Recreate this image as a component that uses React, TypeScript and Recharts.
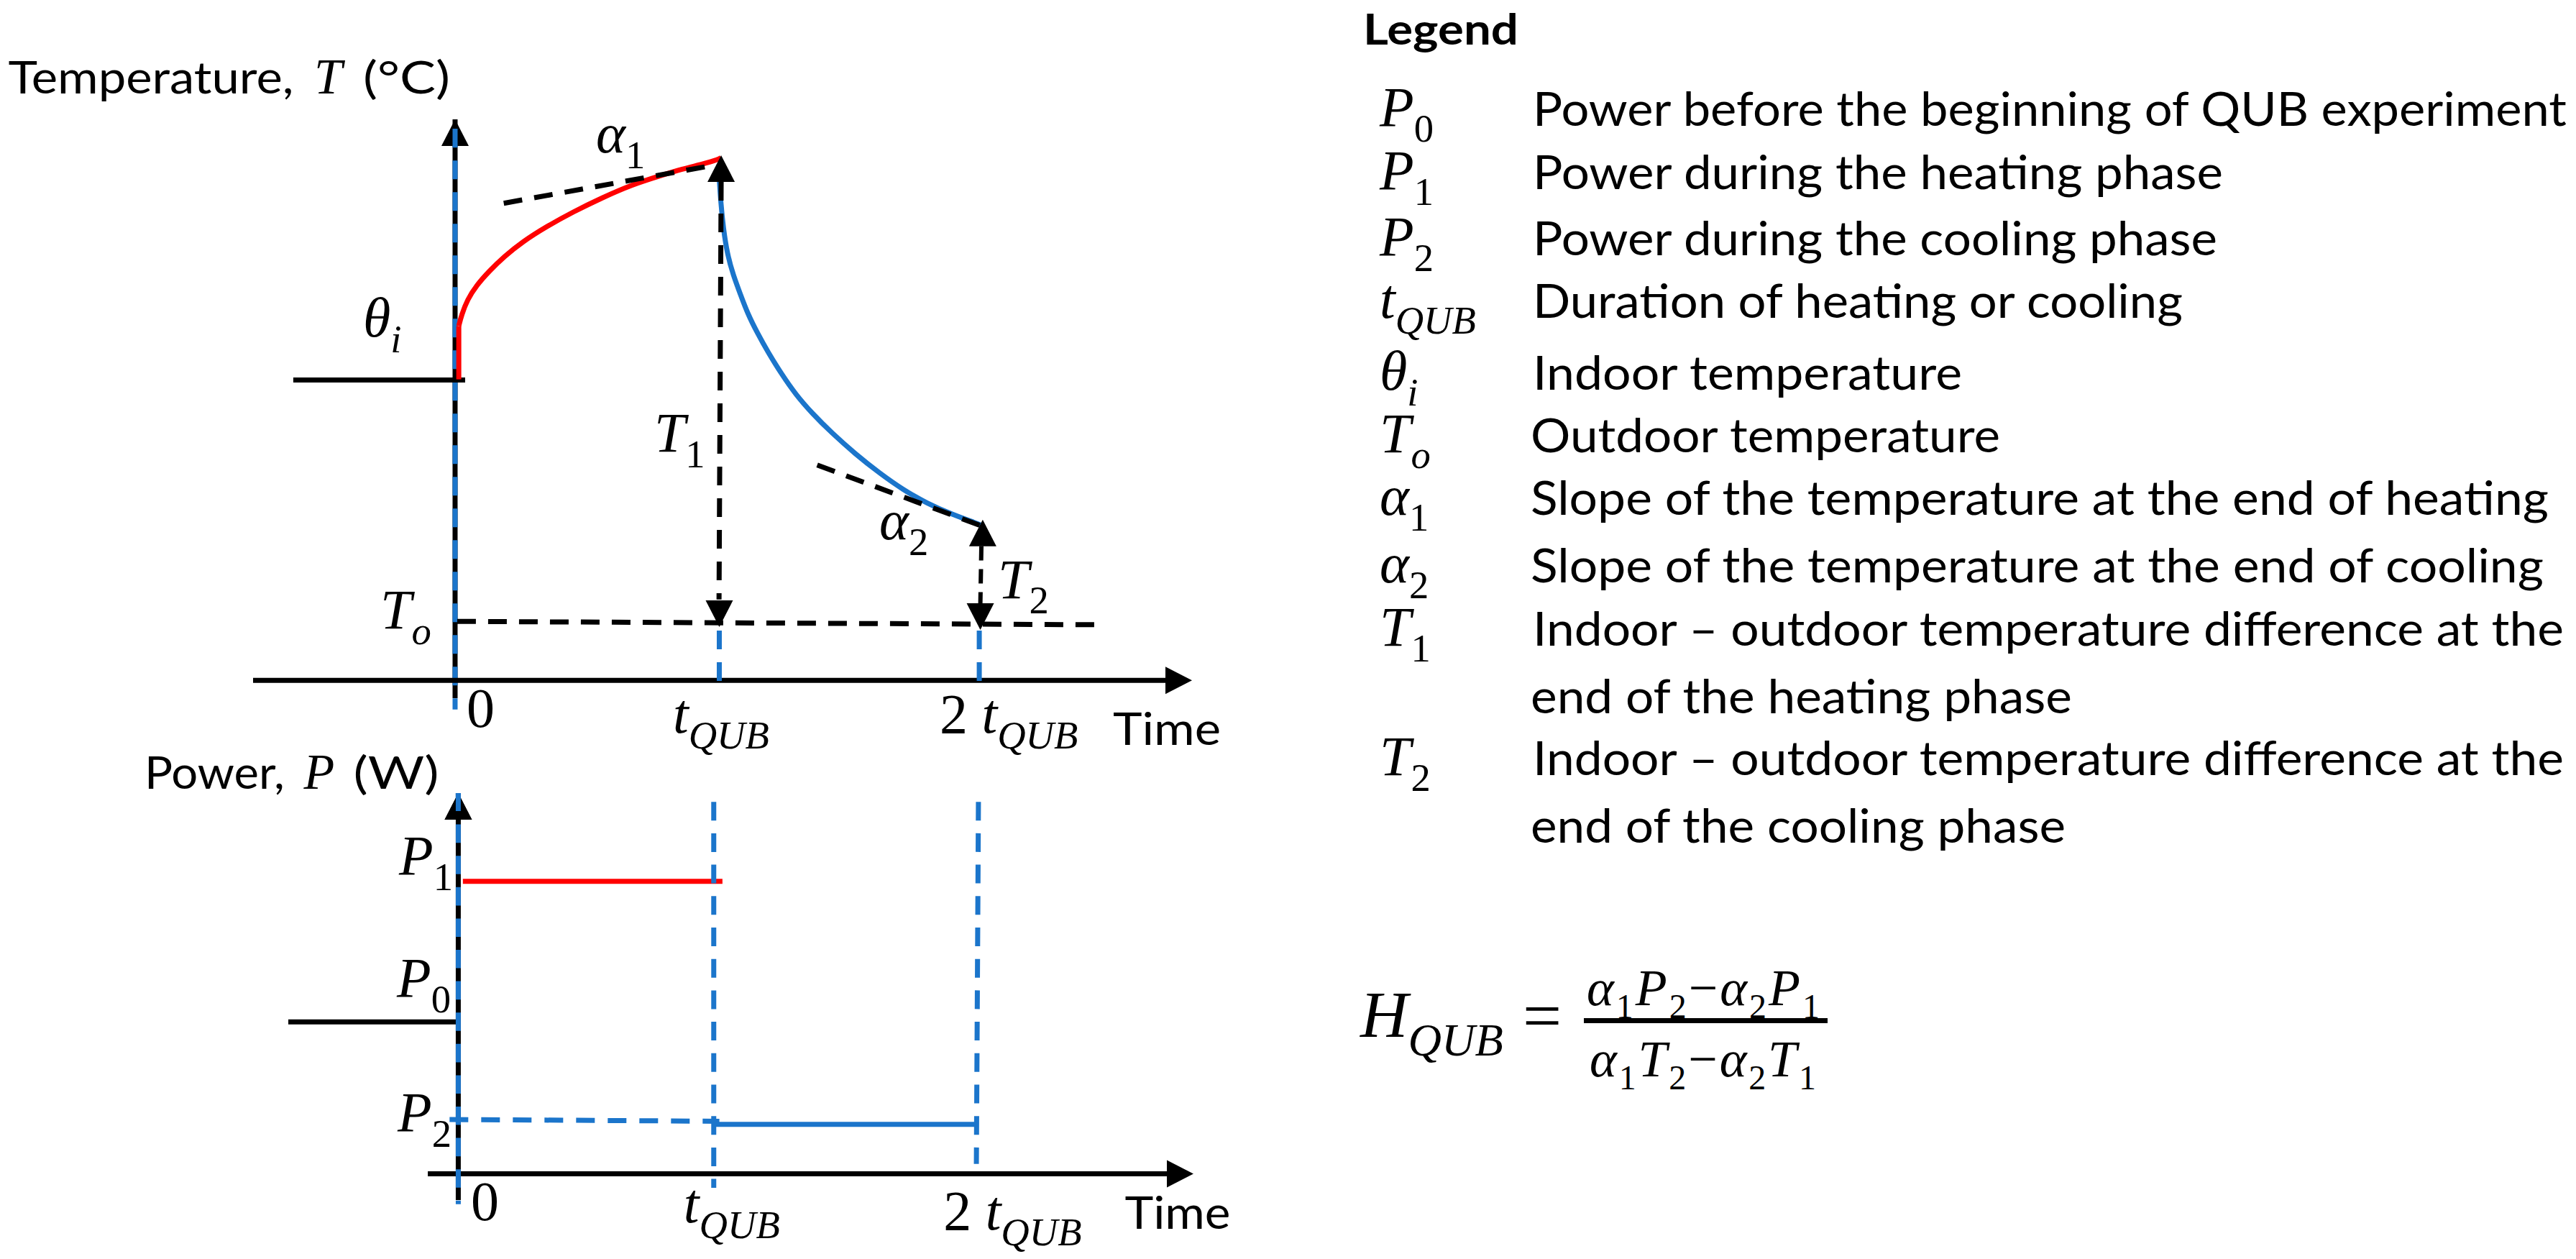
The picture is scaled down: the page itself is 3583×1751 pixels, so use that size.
import React from "react";
import { ComposedChart, Line, XAxis, YAxis, ReferenceDot } from "recharts";

type Pt = { x: number; y: number };
const pts = (a: number[][]): Pt[] => a.map(([x, y]) => ({ x, y }));

const RED = "#FF0000";
const BLUE = "#1B75CB";
const SANS = "Lato, sans-serif";
const SERIF = "'Liberation Serif', serif";

// ---- temperature panel (arbitrary units)
const tempHeatStep = pts([[0.014, 53.7], [0.014, 63.2]]);
const tempHeating = pts([[0.014, 63.2], [0.014, 63.2], [0.024, 65.1], [0.046, 67.9], [0.082, 70.5], [0.127, 72.9], [0.186, 75.6], [0.254, 78.2], [0.344, 80.9], [0.444, 83.5], [0.552, 86.0], [0.669, 88.4], [0.769, 89.9], [0.859, 91.2], [0.931, 92.0], [0.995, 92.9], [1.003, 93.2]]);
const tempCooling = pts([[0.995, 90], [0.995, 90], [1.002, 85.0], [1.011, 80.7], [1.026, 76.0], [1.049, 72.2], [1.076, 68.8], [1.103, 65.4], [1.139, 62.0], [1.18, 58.5], [1.23, 54.7], [1.284, 51.0], [1.347, 47.6], [1.419, 44.2], [1.509, 40.4], [1.6, 37.0], [1.69, 34.0], [1.78, 31.6], [1.871, 29.7], [1.97, 28.0], [1.984, 27.7]]);
const tempIndoorBefore = pts([[-0.61, 53.6], [0.038, 53.6]]);
const tempOutdoor = pts([[0.008, 10.6], [2.44, 10.0]]);
const tempSlope1 = pts([[0.1835, 85.06], [0.9485, 91.6]]);
const tempSlope2 = pts([[1.365, 38.45], [1.984, 27.6]]);
const tempYAxisBase = pts([[0, 100], [0, -3.07]]);
const tempYAxisOver = pts([[0, 98.3], [0, -5.1]]);
const tempXAxis = pts([[-0.7615, 0.1], [2.7, 0.1]]);
const tempT1 = pts([[1.003, 88.86], [0.995, 14.5]]);
const tempT2 = pts([[1.984, 24], [1.98, 13.5]]);
const tempGuide1 = pts([[0.996, 8.96], [0.996, 0]]);
const tempGuide2 = pts([[1.976, 8.96], [1.976, 0]]);
const tempTicks = [0, 1, 1.984];
const tempYTicks = [53.6, 10.4];

// ---- power panel
const powerP1 = pts([[0.018, 76.8], [1.032, 76.8]]);
const powerP0 = pts([[-0.664, 39.9], [0, 39.9]]);
const powerP2Dashed = pts([[-0.034, 14.26], [1.02, 13.8]]);
const powerP2 = pts([[1, 13.0], [2.027, 13.0]]);
const powerYAxisBase = pts([[0, 100], [0, -6.9]]);
const powerYAxisOver = pts([[0, 100], [0, -8]]);
const powerXAxis = pts([[-0.119, 0], [2.78, 0]]);
const powerGuide1 = pts([[0.998, 97.7], [0.998, -3.7]]);
const powerGuide2 = pts([[2.032, 97.7], [2.024, 2.6]]);
const powerTicks = [0, 1, 2.027];
const powerYTicks = [76.8, 39.9, 14.1];

// ---- legend
const legendTitle = "Legend";
const legendSymbols: [string, string, boolean][] = [
  ["P", "0", false], ["P", "1", false], ["P", "2", false], ["t", "QUB", true], ["θ", "i", true],
  ["T", "o", true], ["α", "1", false], ["α", "2", false], ["T", "1", false], ["", "", false], ["T", "2", false], ["", "", false],
];
const legendTexts = [
  "Power before the beginning of QUB experiment",
  "Power during the heating phase",
  "Power during the cooling phase",
  "Duration of heating or cooling",
  "Indoor temperature",
  "Outdoor temperature",
  "Slope of the temperature at the end of heating",
  "Slope of the temperature at the end of cooling",
  "Indoor – outdoor temperature difference at the",
  "end of the heating phase",
  "Indoor – outdoor temperature difference at the",
  "end of the cooling phase",
];
const legendBaselines = [175, 263, 355, 442, 542, 629, 716, 810, 898, 992, 1078, 1172];
const legendStarts = [2132, 2132, 2132, 2132, 2132, 2129, 2129, 2129, 2132, 2129, 2132, 2129];
const legendEnds = [3570, 3092, 3084, 3036, 2729, 2782, 3545, 3538, 3566, 2882, 3566, 2873];

function MathText({ x, y, base, sub, subItalic = false, size = 78, prefix }: any) {
  const subSize = size * 0.7;
  const drop = size * 0.28;
  return (
    <text x={x} y={y} fontFamily={SERIF} fontSize={size} fill="#000">
      {prefix ? <tspan>{prefix}</tspan> : null}
      <tspan fontStyle="italic">{base}</tspan>
      <tspan dy={drop} fontSize={subSize} fontStyle={subItalic ? "italic" : "normal"}>{sub}</tspan>
    </text>
  );
}

function Arrow({ cx, cy, dir, len = 37, wid = 38, blueFrom, blueTo }: any) {
  const h = wid / 2;
  let p = "";
  if (dir === "up") p = `${cx},${cy} ${cx - h},${cy + len} ${cx + h},${cy + len}`;
  if (dir === "down") p = `${cx},${cy} ${cx - h},${cy - len} ${cx + h},${cy - len}`;
  if (dir === "right") p = `${cx},${cy} ${cx - len},${cy - h} ${cx - len},${cy + h}`;
  return (
    <g>
      <polygon points={p} fill="#000" />
      {blueTo !== undefined ? <rect x={cx - 3.5} y={cy + blueFrom} width={7} height={blueTo - blueFrom} fill={BLUE} /> : null}
    </g>
  );
}

const arrowDot = (x: number, y: number, dir: string, key: string, blue?: number[]) => (
  <ReferenceDot key={key} x={x} y={y} r={1} ifOverflow="visible"
    shape={(p: any) => <Arrow cx={p.cx} cy={p.cy} dir={dir} blueFrom={blue?.[0]} blueTo={blue?.[1]} />} />
);

const mathDot = (x: number, y: number, dx: number, dy: number, base: string, sub: string, subItalic: boolean, key: string) => (
  <ReferenceDot key={key} x={x} y={y} r={1} ifOverflow="visible"
    shape={(p: any) => <MathText x={p.cx + dx} y={p.cy + dy} base={base} sub={sub} subItalic={subItalic} />} />
);

const titleDot = (x: number, y: number, dy: number, parts: any[], key: string) => (
  <ReferenceDot key={key} x={x} y={y} r={1} ifOverflow="visible"
    shape={(p: any) => (
      <g>
        <text x={p.cx + parts[0][1]} y={p.cy + dy} fontFamily={SANS} fontSize={62} fill="#000" textLength={parts[0][2]} lengthAdjust="spacingAndGlyphs">{parts[0][0]}</text>
        <text x={p.cx + parts[1][1]} y={p.cy + dy} fontFamily={SERIF} fontStyle="italic" fontSize={70} fill="#000">{parts[1][0]}</text>
        <text x={p.cx + parts[2][1]} y={p.cy + dy} fontFamily={SANS} fontSize={62} fill="#000" textLength={parts[2][2]} lengthAdjust="spacingAndGlyphs">{parts[2][0]}</text>
      </g>
    )} />
);

const timeDot = (x: number, y: number, dx: number, dy: number, w: number, key: string) => (
  <ReferenceDot key={key} x={x} y={y} r={1} ifOverflow="visible"
    shape={(p: any) => (
      <text x={p.cx + dx} y={p.cy + dy} fontFamily={SANS} fontSize={62} fill="#000" textLength={w} lengthAdjust="spacingAndGlyphs">Time</text>
    )} />
);

const ln = (key: string, data: Pt[], stroke: string, width: number, dash?: string, type: any = "linear") => (
  <Line key={key} data={data} dataKey="y" type={type} stroke={stroke} strokeWidth={width} strokeDasharray={dash}
    dot={false} activeDot={false} isAnimationActive={false} legendType="none" connectNulls />
);

function XTick({ x, y, payload, offs }: any) {
  const i = offs.values.indexOf(payload.value);
  if (i === 0) return <text x={x + offs.zero[0]} y={y + offs.zero[1]} fontFamily={SERIF} fontSize={78} fill="#000">0</text>;
  const o = i === 1 ? offs.one : offs.two;
  return <MathText x={x + o[0]} y={y + o[1]} base="t" sub="QUB" subItalic prefix={i === 2 ? "2 " : undefined} />;
}

function YTick({ x, y, payload, labels }: any) {
  const l = labels[payload.value];
  if (!l) return null;
  return <MathText x={x + l[0]} y={y + l[1]} base={l[2]} sub={l[3]} subItalic={l[4]} />;
}

const tempYLabels: any = { 53.6: [153, -60, "θ", "i", true], 10.4: [177, 8, "T", "o", true] };
const powerYLabels: any = { 76.8: [154, -10, "P", "1", false], 39.9: [151, -35, "P", "0", false], 14.1: [152, 15, "P", "2", false] };

function TemperatureChart() {
  return (
    <div style={{ position: "absolute", left: 0, top: 0 }}>
      <ComposedChart width={1800} height={1090} margin={{ left: 351, right: 142, top: 166, bottom: 102 }}>
        <XAxis dataKey="x" type="number" domain={[-0.7615, 2.778]} allowDataOverflow ticks={tempTicks} height={1} axisLine={false} tickLine={false} tickSize={0} tickMargin={0} interval={0}
          tick={(p: any) => <XTick {...p} offs={{ values: tempTicks, zero: [16, 24], one: [-66, 32], two: [-58, 32] }} />} />
        <YAxis type="number" domain={[-5.12, 100]} allowDataOverflow ticks={tempYTicks} width={1} axisLine={false} tickLine={false} tickSize={0} tickMargin={0} interval={0}
          tick={(p: any) => <YTick {...p} labels={tempYLabels} />} />
        {ln("yk", tempYAxisBase, "#000", 7)}
        {ln("yb", tempYAxisOver, BLUE, 7, "26 18")}
        {ln("xa", tempXAxis, "#000", 7)}
        {ln("g1", tempGuide1, BLUE, 7, "26 18")}
        {ln("g2", tempGuide2, BLUE, 7, "26 18")}
        {ln("out", tempOutdoor, "#000", 7, "26 17")}
        {ln("ind", tempIndoorBefore, "#000", 7)}
        {ln("cool", tempCooling, BLUE, 7, undefined, "basis")}
        {ln("heat0", tempHeatStep, RED, 7)}
        {ln("heat", tempHeating, RED, 7, undefined, "basis")}
        {ln("s1", tempSlope1, "#000", 7, "26 17")}
        {ln("s2", tempSlope2, "#000", 7, "26 17")}
        {ln("t1", tempT1, "#000", 7, "26 18")}
        {ln("t2", tempT2, "#000", 6, "20 12")}
        {arrowDot(0, 100, "up", "a0", [13, 38])}
        {arrowDot(2.778, 0.1, "right", "a1")}
        {arrowDot(1.003, 93.6, "up", "a2")}
        {arrowDot(0.996, 9.6, "down", "a3")}
        {arrowDot(1.989, 28.7, "up", "a4")}
        {arrowDot(1.98, 9.1, "down", "a5")}
        {mathDot(1, 93.2, -173, -7, "α", "1", false, "m1")}
        {mathDot(1.984, 27.8, -142, 20, "α", "2", false, "m2")}
        {mathDot(1, 51.8, -92, 86, "T", "1", false, "m3")}
        {mathDot(1.984, 19, 23, 33, "T", "2", false, "m4")}
        {titleDot(0, 100, -36, [["Temperature,", -621.5, 397], ["T", -196, 0], ["(°C)", -128, 121]], "ti")}
        {timeDot(2.778, 0, -110, 89, 150, "tm")}
      </ComposedChart>
    </div>
  );
}

function PowerChart() {
  return (
    <div style={{ position: "absolute", left: 0, top: 960 }}>
      <ComposedChart width={1800} height={791} margin={{ left: 400, right: 140, top: 143, bottom: 75 }}>
        <XAxis dataKey="x" type="number" domain={[-0.664, 2.872]} allowDataOverflow ticks={powerTicks} height={1} axisLine={false} tickLine={false} tickSize={0} tickMargin={0} interval={0}
          tick={(p: any) => <XTick {...p} offs={{ values: powerTicks, zero: [17.5, 22], one: [-42.6, 25], two: [-47, 35] }} />} />
        <YAxis type="number" domain={[-8.03, 100]} allowDataOverflow ticks={powerYTicks} width={1} axisLine={false} tickLine={false} tickSize={0} tickMargin={0} interval={0}
          tick={(p: any) => <YTick {...p} labels={powerYLabels} />} />
        {ln("xa", powerXAxis, "#000", 7)}
        {ln("yk", powerYAxisBase, "#000", 7)}
        {ln("p1", powerP1, RED, 7)}
        {ln("p0", powerP0, "#000", 7)}
        {ln("p2d", powerP2Dashed, BLUE, 7, "26 18")}
        {ln("p2", powerP2, BLUE, 7)}
        {ln("g1", powerGuide1, BLUE, 7, "26 17.7")}
        {ln("g2", powerGuide2, BLUE, 7, "26 17.7")}
        {arrowDot(0, 100, "up", "a0")}
        {ln("yb", powerYAxisOver, BLUE, 7, "25.6 18")}
        {arrowDot(2.872, 0, "right", "a1")}
        {arrowDot(0, 100, "up", "a2", [0, 25])}
        {titleDot(0, 100, -6, [["Power,", -436.5, 195], ["P", -215, 0], ["(W)", -146, 119]], "ti")}
        {timeDot(2.872, 0, -95.5, 77, 147, "tm")}
      </ComposedChart>
    </div>
  );
}

function Fraction({ x, y, w, sym1, sym2, sub1, sub2 }: any) {
  return (
    <text x={x} y={y} fontFamily={SERIF} fontSize={72} fill="#000" textLength={w}>
      <tspan fontStyle="italic">α</tspan><tspan dy={18} fontSize={48}>1</tspan>
      <tspan dy={-18} fontStyle="italic">{sym1}</tspan><tspan dy={18} fontSize={48}>{sub1}</tspan>
      <tspan dy={-18}>−</tspan>
      <tspan fontStyle="italic">α</tspan><tspan dy={18} fontSize={48}>2</tspan>
      <tspan dy={-18} fontStyle="italic">{sym2}</tspan><tspan dy={18} fontSize={48}>{sub2}</tspan>
    </text>
  );
}

function LegendPanel() {
  return (
    <svg width={3583} height={1751} style={{ position: "absolute", left: 0, top: 0, pointerEvents: "none" }}>
      <text x={1896} y={62} fontFamily={SANS} fontWeight={700} fontSize={60} fill="#000" textLength={216} lengthAdjust="spacingAndGlyphs">{legendTitle}</text>
      {legendTexts.map((t, i) => (
        <g key={i}>
          <text x={legendStarts[i]} y={legendBaselines[i]} fontFamily={SANS} fontSize={66} fill="#000"
            textLength={legendEnds[i] - legendStarts[i]} lengthAdjust="spacingAndGlyphs">{t}</text>
          {legendSymbols[i][0] ? (
            <MathText x={1919} y={legendBaselines[i]} base={legendSymbols[i][0]} sub={legendSymbols[i][1]} subItalic={legendSymbols[i][2]} />
          ) : null}
        </g>
      ))}
      <MathText x={1892} y={1442} base="H" sub="QUB" subItalic size={92} />
      <text x={2118} y={1445} fontFamily={SERIF} fontSize={96} fill="#000">=</text>
      <rect x={2203} y={1416} width={339} height={7} fill="#000" />
      <Fraction x={2207} y={1398} w={324} sym1="P" sym2="P" sub1="2" sub2="1" />
      <Fraction x={2211} y={1497} w={315} sym1="T" sym2="T" sub1="2" sub2="1" />
    </svg>
  );
}

export default function App() {
  return (
    <div style={{ position: "absolute", left: 0, top: 0, width: 3583, height: 1751, background: "#fff", overflow: "hidden" }}>
      <TemperatureChart />
      <PowerChart />
      <LegendPanel />
    </div>
  );
}
